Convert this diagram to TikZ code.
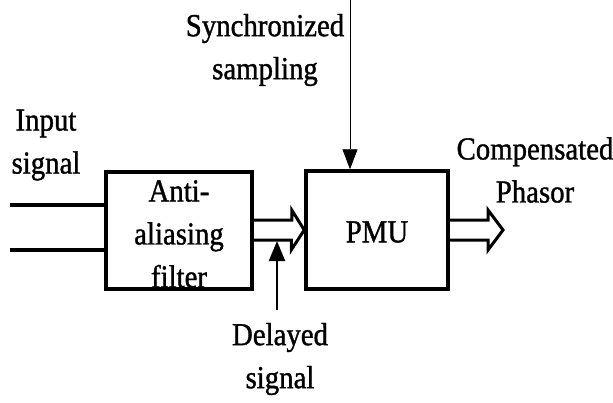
\documentclass[tikz,border=0pt]{standalone}
\usepackage{fontspec}
\setmainfont[FakeBold=1.2,AutoFakeBold=1.2]{Liberation Serif}
\usetikzlibrary{arrows.meta,calc}
\begin{document}
\begin{tikzpicture}[x=1pt,y=-1pt,
  blockbox/.style={draw,line width=3.5pt,inner sep=0pt},
  lbl/.style={font=\fontsize{32}{43}\selectfont\bfseries,align=center,inner sep=0pt,xscale=0.9,transform shape},
  hollow/.style={draw,line width=3pt,line join=miter}
]
\useasboundingbox (0,0) rectangle (613,402);
% blocks
\node[blockbox,minimum width=146pt,minimum height=117pt] (aa) at (179,230.5) {};
\node[blockbox,minimum width=142pt,minimum height=118pt] (pmu) at (377,230) {};
% texts
\node[lbl] (aatxt) at (179,234) {Anti-\\aliasing\\filter};
\node[lbl] (pmutxt) at (377,232) {PMU};
\node[lbl] (intxt) at (46,145) {Input\\signal};
\node[lbl] (synctxt) at (265,50) {Synchronized\\sampling};
\node[lbl] (comptxt) at (535,170) {Compensated\\Phasor};
\node[lbl] (deltxt) at (280,359) {Delayed\\signal};
% input lines
\coordinate (in1) at (10,205);
\coordinate (in2) at (10,250);
\draw[line width=4pt] (in1) -- (in1 -| aa.west);
\draw[line width=4pt] (in2) -- (in2 -| aa.west);
% hollow arrow aa -> pmu
\draw[hollow] ($(aa.east)+(0,-10.5)$) -- ++(38,0) -- ++(0,-10) -- (pmu.west |- 0,230) -- ++(-13,20) -- ++(0,-10) -- ($(aa.east)+(0,9.5)$);
% hollow arrow pmu -> out
\coordinate (outtip) at (503,230);
\draw[hollow] ($(pmu.east)+(0,-10)$) -- ($(outtip)+(-15,-10)$) -- ++(0,-10) -- (outtip) -- ++(-15,20) -- ++(0,-10) -- ($(pmu.east)+(0,10)$);
% synchronized sampling arrow
\coordinate (syncstart) at (350,0);
\draw[line width=0.8pt,-{Triangle[length=20pt,width=15pt]}] (syncstart) -- (syncstart |- pmu.north);
% delayed signal arrow
\coordinate (delstart) at (277,310);
\draw[line width=2pt,-{Triangle[length=20pt,width=16pt]}] (delstart) -- (277,241);
\end{tikzpicture}
\end{document}
